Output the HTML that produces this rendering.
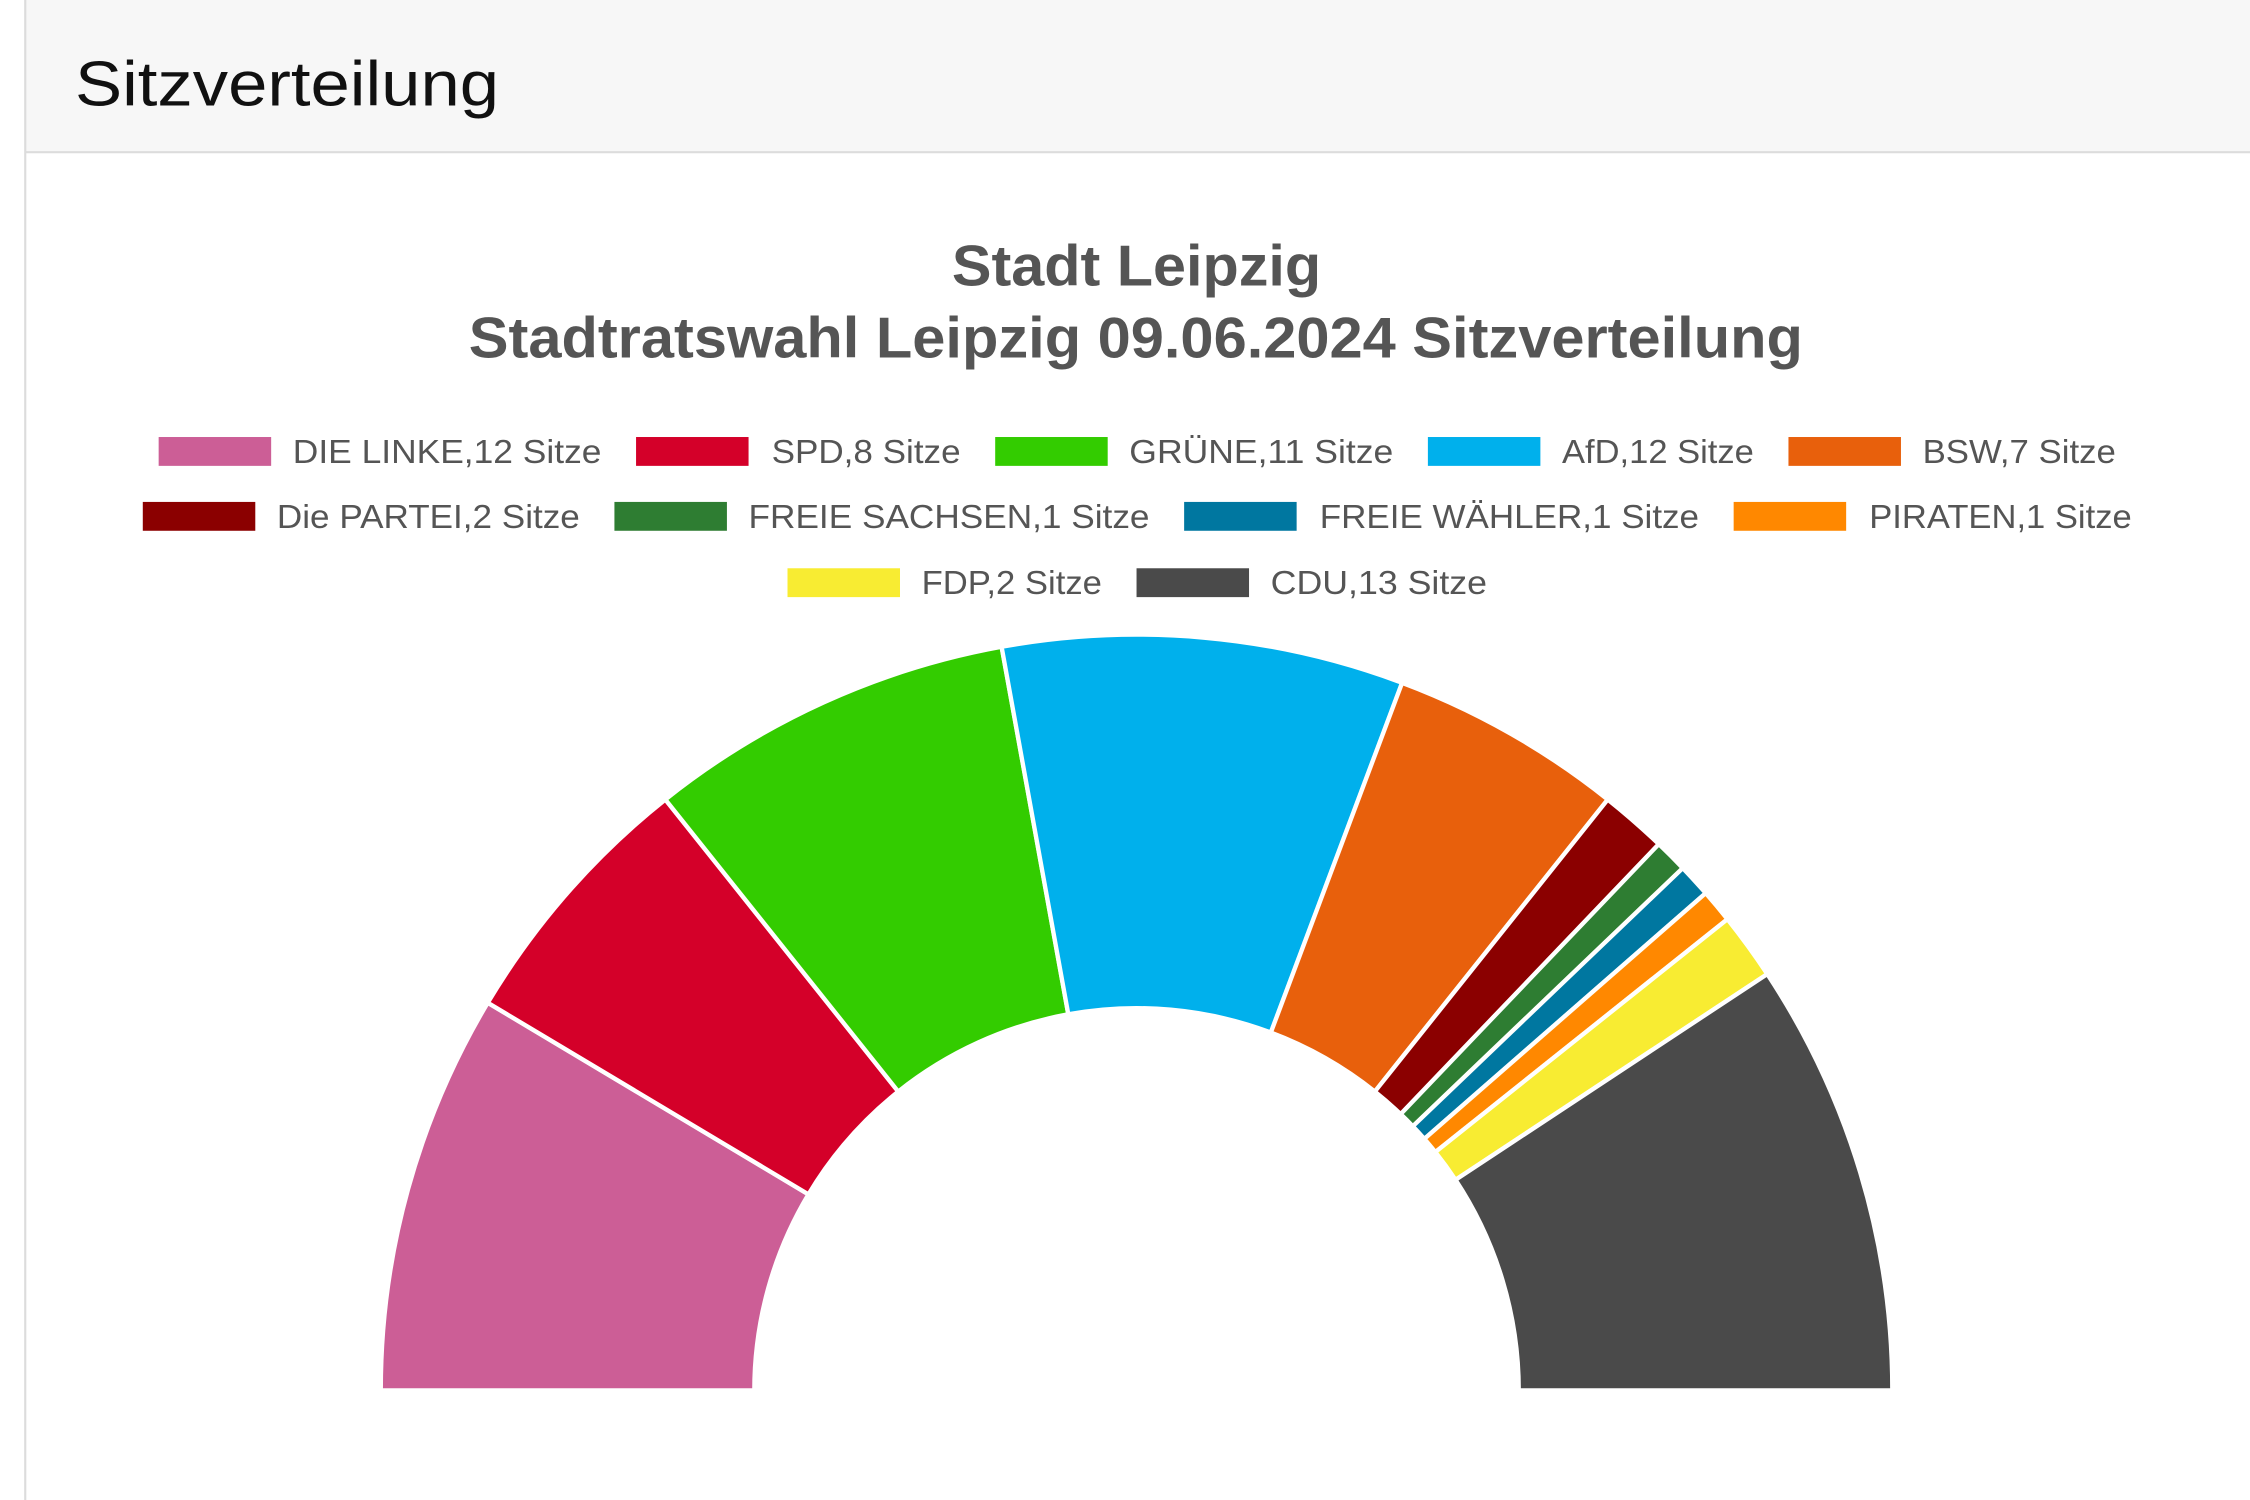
<!DOCTYPE html>
<html><head><meta charset="utf-8">
<style>
html,body{margin:0;padding:0;background:#fff;}
svg{display:block;}
</style></head>
<body>
<svg id="s" width="2250" height="1500" viewBox="0 0 1560 1040" preserveAspectRatio="none" xmlns="http://www.w3.org/2000/svg">
<rect x="0" y="0" width="1560" height="1040" fill="#fff"/>
<rect x="17" y="0" width="1543" height="105" fill="#f7f7f7"/>
<line x1="17" y1="105.5" x2="1560" y2="105.5" stroke="#dcdcdc" stroke-width="1.5"/>
<line x1="17.5" y1="0" x2="17.5" y2="1040" stroke="#dcdcdc" stroke-width="1.5"/>
<text x="52" y="73" font-family="Liberation Sans, sans-serif" font-size="44" fill="#111" textLength="294" lengthAdjust="spacingAndGlyphs">Sitzverteilung</text>
<g font-family="Liberation Sans, sans-serif" font-weight="bold" fill="#555" font-size="40">
<text x="660" y="198" textLength="256" lengthAdjust="spacingAndGlyphs">Stadt Leipzig</text>
<text x="325" y="248" textLength="925" lengthAdjust="spacingAndGlyphs">Stadtratswahl Leipzig 09.06.2024 Sitzverteilung</text>
</g>
<g id="leg" font-family="Liberation Sans, sans-serif" font-size="23" fill="#555"></g>
<g id="pie"></g>
</svg>
<script>
var L=document.getElementById('leg'),P=document.getElementById('pie'),NS='http://www.w3.org/2000/svg';
var items=[
["DIE LINKE,12 Sitze","#cc5e96",110,203,417,313],
["SPD,8 Sitze","#d40029",441,535,666,313],
["GRÜNE,11 Sitze","#33cc00",690,783,966,313],
["AfD,12 Sitze","#00b0ec",990,1083,1216,313],
["BSW,7 Sitze","#e8600c",1240,1333,1467,313],
["Die PARTEI,2 Sitze","#8b0000",99,192,402,358],
["FREIE SACHSEN,1 Sitze","#2e7d32",426,519,797,358],
["FREIE WÄHLER,1 Sitze","#0077a0",821,915,1178,358],
["PIRATEN,1 Sitze","#ff8800",1202,1296,1478,358],
["FDP,2 Sitze","#f8ec32",546,639,764,404],
["CDU,13 Sitze","#4a4a4a",788,881,1031,404]];
items.forEach(function(it){
 var r=document.createElementNS(NS,'rect');
 r.setAttribute('x',it[2]);r.setAttribute('y',it[5]-10);r.setAttribute('width',78);r.setAttribute('height',20);r.setAttribute('fill',it[1]);L.appendChild(r);
 var t=document.createElementNS(NS,'text');
 t.setAttribute('x',it[3]);t.setAttribute('y',it[5]+8);t.setAttribute('textLength',it[4]-it[3]);t.setAttribute('lengthAdjust','spacingAndGlyphs');
 t.textContent=it[0];L.appendChild(t);
});
var seats=[12,8,11,12,7,2,1,1,1,2,13];
var cx=788,cy=964,R=524,r=265,tot=70,acc=0;
function pt(rad,a){return [cx-rad*Math.cos(a),cy-rad*Math.sin(a)];}
seats.forEach(function(n,i){
 var a0=acc/tot*Math.PI,a1=(acc+n)/tot*Math.PI;acc+=n;
 var p0=pt(R,a0),p1=pt(R,a1),q1=pt(r,a1),q0=pt(r,a0);
 var d='M'+p0+' A'+R+','+R+' 0 0 1 '+p1+' L'+q1+' A'+r+','+r+' 0 0 0 '+q0+' Z';
 var p=document.createElementNS(NS,'path');
 p.setAttribute('d',d);p.setAttribute('fill',items[i][1]);p.setAttribute('stroke','#fff');p.setAttribute('stroke-width','3');p.setAttribute('stroke-linejoin','round');
 P.appendChild(p);
});
</script>
</body></html>
